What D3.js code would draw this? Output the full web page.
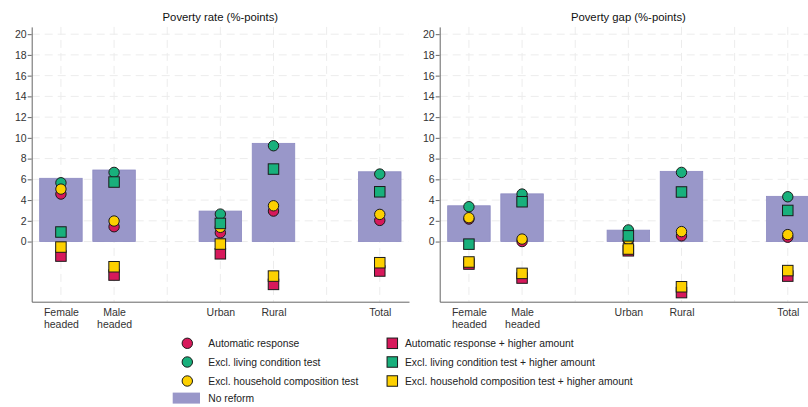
<!DOCTYPE html>
<html>
<head>
<meta charset="utf-8">
<script src="https://cdn.jsdelivr.net/npm/d3@7/dist/d3.min.js"></script>
<style>
  html, body { margin: 0; padding: 0; background: #fff; }
  svg { display: block; font-family: "Liberation Sans", Arial, sans-serif; }
</style>
</head>
<body>
<svg id="chart" width="808" height="407"></svg>
<script>
// ---------- data ----------
const categories = ["Female\nheaded", "Male\nheaded", "Urban", "Rural", "Total"];
const categoryPositions = [1, 2, 4, 5, 7];
const panelTitles = ["Poverty rate (%-points)", "Poverty gap (%-points)"];
const yTicks = [0, 2, 4, 6, 8, 10, 12, 14, 16, 18, 20];

// Poverty rate
const rateNoReform          = [6.10, 6.90, 2.94, 9.47, 6.73];
const rateAutomatic         = [4.58, 1.43, 0.85, 2.94, 2.04];
const rateExclLiving        = [5.67, 6.67, 2.65, 9.24, 6.51];
const rateExclHousehold     = [5.06, 1.98, 1.37, 3.45, 2.62];
const rateAutomaticHigh     = [-1.40, -3.23, -1.18, -4.13, -2.84];
const rateExclLivingHigh    = [0.92, 5.74, 1.75, 6.99, 4.80];
const rateExclHouseholdHigh = [-0.53, -2.43, -0.24, -3.33, -2.04];

// Poverty gap
const gapNoReform          = [3.45, 4.60, 1.10, 6.77, 4.36];
const gapAutomatic         = [2.17, 0.00, 0.10, 0.55, 0.42];
const gapExclLiving        = [3.36, 4.58, 1.12, 6.67, 4.32];
const gapExclHousehold     = [2.30, 0.24, 0.22, 0.96, 0.67];
const gapAutomaticHigh     = [-2.17, -3.52, -0.89, -4.92, -3.33];
const gapExclLivingHigh    = [-0.25, 3.84, 0.55, 4.78, 3.00];
const gapExclHouseholdHigh = [-1.97, -3.07, -0.72, -4.36, -2.80];

const seriesNames = [
  "Automatic response", "Excl. living condition test", "Excl. household composition test",
  "Automatic response + higher amount", "Excl. living condition test + higher amount",
  "Excl. household composition test + higher amount"
];
const barName = "No reform";

// ---------- styles ----------
const RED = "#d7195b", GREEN = "#18b07c", YELLOW = "#fdd000";
const BAR = "#9997c9", BARSTROKE = "#8d8bc2";
const seriesStyle = [
  {shape: "circle", color: RED},
  {shape: "circle", color: GREEN},
  {shape: "circle", color: YELLOW},
  {shape: "square", color: RED},
  {shape: "square", color: GREEN},
  {shape: "square", color: YELLOW}
];

const panels = [
  {title: panelTitles[0], bars: rateNoReform,
   series: [rateAutomatic, rateExclLiving, rateExclHousehold, rateAutomaticHigh, rateExclLivingHigh, rateExclHouseholdHigh]},
  {title: panelTitles[1], bars: gapNoReform,
   series: [gapAutomatic, gapExclLiving, gapExclHousehold, gapAutomaticHigh, gapExclLivingHigh, gapExclHouseholdHigh]}
];

const svg = d3.select("#chart");
const plotTop = 26.9, plotBottom = 301.7;
const plotW = 377.3;
const panelX = [31.7, 439.7];

const y = d3.scaleLinear().domain([-5.8, 20.7]).range([plotBottom, plotTop]);
const x = d3.scaleLinear().domain([0.45, 7.55]).range([0, plotW]);
const barW = x(1.4) - x(0.6);
const R = 5.2, S = 10.5;

panels.forEach((p, pi) => {
  const g = svg.append("g").attr("transform", `translate(${panelX[pi]},0)`);

  // grid
  g.append("g").selectAll("line").data(yTicks).join("line")
    .attr("x1", 0).attr("x2", plotW)
    .attr("y1", d => y(d)).attr("y2", d => y(d))
    .attr("stroke", "#ececec").attr("stroke-width", 1).attr("stroke-dasharray", "8,5");
  g.append("g").selectAll("line").data([1,2,3,4,5,6,7]).join("line")
    .attr("x1", d => x(d)).attr("x2", d => x(d))
    .attr("y1", plotTop).attr("y2", plotBottom)
    .attr("stroke", "#ececec").attr("stroke-width", 1).attr("stroke-dasharray", "8,5");

  // title
  g.append("text").attr("x", plotW / 2).attr("y", 21)
    .attr("text-anchor", "middle").attr("font-size", "11.3px").attr("fill", "#111")
    .text(p.title);

  // bars
  g.append("g").selectAll("rect").data(p.bars).join("rect")
    .attr("x", (d, i) => x(categoryPositions[i]) - barW / 2)
    .attr("width", barW)
    .attr("y", d => y(Math.max(0, d)))
    .attr("height", d => Math.abs(y(d) - y(0)))
    .attr("fill", BAR).attr("stroke", BARSTROKE).attr("stroke-width", 0.8);

  // markers
  p.series.forEach((vals, si) => {
    const st = seriesStyle[si];
    const mg = g.append("g");
    if (st.shape === "circle") {
      mg.selectAll("circle").data(vals).join("circle")
        .attr("cx", (d, i) => x(categoryPositions[i]))
        .attr("cy", d => y(d))
        .attr("r", R)
        .attr("fill", st.color).attr("stroke", "#1a1a1a").attr("stroke-width", 1);
    } else {
      mg.selectAll("rect").data(vals).join("rect")
        .attr("x", (d, i) => x(categoryPositions[i]) - S / 2)
        .attr("y", d => y(d) - S / 2)
        .attr("width", S).attr("height", S)
        .attr("fill", st.color).attr("stroke", "#1a1a1a").attr("stroke-width", 1);
    }
  });

  // y axis
  const yAxis = g.append("g").call(d3.axisLeft(y).tickValues(yTicks).tickSize(4).tickSizeOuter(0));
  yAxis.select(".domain").attr("stroke", "#666");
  yAxis.selectAll(".tick line").attr("stroke", "#666");
  yAxis.selectAll(".tick text").attr("font-size", "10.5px").attr("fill", "#333")
    .attr("font-family", "Liberation Sans, Arial, sans-serif").attr("x", -5);

  // x axis
  const xAxis = g.append("g").attr("transform", `translate(0,${plotBottom})`)
    .call(d3.axisBottom(x).tickValues(categoryPositions).tickSize(0).tickSizeOuter(0)
      .tickFormat((d, i) => categories[i]));
  xAxis.select(".domain").attr("stroke", "#666");
  xAxis.selectAll(".tick text").each(function(d, i) {
    const t = d3.select(this);
    const lines = categories[i].split("\n");
    t.text(null).attr("y", 0).attr("dy", null)
      .attr("font-size", "10.5px").attr("fill", "#333")
      .attr("font-family", "Liberation Sans, Arial, sans-serif");
    lines.forEach((ln, li) => {
      t.append("tspan").attr("x", 0).attr("y", 14.5 + li * 12).text(ln);
    });
  });
});

// legend
const leg = svg.append("g").attr("font-size", "10.3px").attr("fill", "#222");
const rowY = [343.3, 362, 381, 398.3];
const colSym = [187.3, 392.3], colText = [208.3, 405];
seriesStyle.forEach((st, si) => {
  const col = si < 3 ? 0 : 1, row = si % 3;
  const cx = colSym[col], cy = rowY[row];
  if (st.shape === "circle") {
    leg.append("circle").attr("cx", cx).attr("cy", cy).attr("r", R)
      .attr("fill", st.color).attr("stroke", "#1a1a1a");
  } else {
    leg.append("rect").attr("x", cx - S / 2).attr("y", cy - S / 2).attr("width", S).attr("height", S)
      .attr("fill", st.color).attr("stroke", "#1a1a1a");
  }
  leg.append("text").attr("x", colText[col]).attr("y", cy).attr("dy", "0.35em").text(seriesNames[si]);
});
leg.append("rect").attr("x", 172.7).attr("y", 392.6).attr("width", 27.3).attr("height", 11)
  .attr("fill", BAR);
leg.append("text").attr("x", colText[0]).attr("y", rowY[3]).attr("dy", "0.35em").text(barName);
</script>
</body>
</html>
